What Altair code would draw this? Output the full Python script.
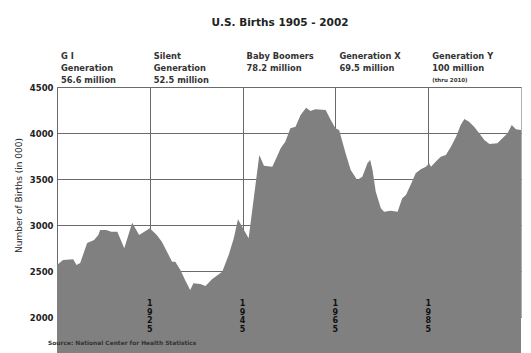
import altair as alt
import pandas as pd

# ---- data ----
years = [1905, 1906.3, 1908.5, 1909.2, 1910, 1911.5, 1913, 1913.9, 1914.3, 1915.6,
         1916.7, 1918, 1919.5, 1921.2, 1922.7, 1925, 1926.5, 1927.6, 1928.7, 1929.8,
         1930.5, 1931.6, 1932.6, 1933.7, 1934.4, 1935.9, 1937, 1938.4, 1940.6, 1942,
         1943.1, 1944, 1944.9, 1946.3, 1948.6, 1949.6, 1951.4, 1952.4, 1953.2, 1954.2,
         1955.3, 1956.4, 1957.5, 1958.7, 1959.6, 1960.7, 1962.9, 1964, 1965, 1965.8,
         1967.2, 1968.3, 1969.7, 1970.8, 1971.9, 1972.5, 1973, 1973.7, 1974.8, 1975.5,
         1976.9, 1978.4, 1979.4, 1980.2, 1981.2, 1982.3, 1983.4, 1984.5, 1985.2, 1985.6,
         1986.6, 1987.7, 1988.8, 1989.9, 1991, 1992, 1992.8, 1993.8, 1994.9, 1996,
         1997.1, 1998.2, 1999.9, 2001, 2002.1, 2003, 2003.9, 2005]
births = [2565, 2620, 2627, 2565, 2587, 2804, 2837, 2891, 2946, 2946,
          2927, 2927, 2747, 3025, 2891, 2964, 2891, 2818, 2710, 2601,
          2601, 2511, 2402, 2293, 2366, 2359, 2337, 2410, 2493, 2674,
          2855, 3062, 2982, 2855, 3761, 3645, 3634, 3742, 3833, 3906,
          4051, 4069, 4196, 4275, 4239, 4257, 4250, 4141, 4051, 4033,
          3779, 3598, 3489, 3525, 3670, 3707, 3598, 3362, 3181, 3145,
          3156, 3145, 3290, 3326, 3435, 3562, 3605, 3634, 3670, 3634,
          3688, 3742, 3761, 3851, 3960, 4087, 4152, 4123, 4069, 3996,
          3924, 3880, 3888, 3942, 3996, 4087, 4040, 4033]

gen_start = [1905, 1925, 1945, 1965, 1985]
gen_labels = ["G I\nGeneration\n56.6 million",
              "Silent\nGeneration\n52.5 million",
              "Baby Boomers\n78.2 million",
              "Generation X\n69.5 million",
              "Generation Y\n100 million"]
gen_note = ["(thru 2010)"]
gen_note_start = [1985]
tick_years = [1925, 1945, 1965, 1985]
y_ticks = [2000, 2500, 3000, 3500, 4000, 4500]
title_text = "U.S. Births 1905 - 2002"
source_text = "Source: National Center for Health Statistics"
y_title = "Number of Births (in 000)"

df = pd.DataFrame({"year": years, "births": births})
gen_df = pd.DataFrame({"start": gen_start, "label": gen_labels})
note_df = pd.DataFrame({"start": gen_note_start, "label": gen_note})
# year labels written as a vertical stack of digits
digit_rows = []
for y in tick_years:
    for i, ch in enumerate(str(y)):
        digit_rows.append({"year": y, "pos": i, "digit": ch})
tick_df = pd.DataFrame(digit_rows)
title_df = pd.DataFrame({"t": [title_text]})
source_df = pd.DataFrame({"t": [source_text]})

FONT = "DejaVu Sans"
GRID = "#6a6a6a"
x_scale = alt.Scale(domain=[1905, 2005], nice=False, zero=False)
y_scale = alt.Scale(domain=[2000, 4500], nice=False, zero=False)

area = alt.Chart(df).mark_area(color="#808080", opacity=1).encode(
    x=alt.X("year:Q", scale=x_scale,
            axis=alt.Axis(values=[1905] + tick_years, grid=True, labels=False,
                          ticks=False, domain=False, title=None,
                          gridColor=GRID, gridOpacity=1, gridWidth=1)),
    y=alt.Y("births:Q", scale=y_scale,
            axis=alt.Axis(values=y_ticks, format="d", grid=True, ticks=False,
                          domain=False, gridColor=GRID, gridOpacity=1, gridWidth=1,
                          labelPadding=4, labelFont=FONT, labelFontSize=8.5,
                          labelFontWeight="bold", labelColor="#222",
                          title=y_title, titleFont=FONT, titleFontSize=9,
                          titleFontWeight="normal", titleColor="#222",
                          titleX=-39, titleY=108, titleAngle=270,
                          titleAlign="center", titleBaseline="middle")),
)

ticks_text = alt.Chart(tick_df).mark_text(
    baseline="middle", align="center", font=FONT,
    fontSize=8, fontWeight="bold", color="#111"
).encode(
    x=alt.X("year:Q", scale=x_scale),
    y=alt.value(217),
    yOffset=alt.YOffset("pos:Q", scale=alt.Scale(domain=[0, 3], range=[0, 26.1])),
    text="digit:N",
)

gen_text = alt.Chart(gen_df).mark_text(
    lineBreak="\n", baseline="top", align="left", dx=4, font=FONT,
    fontSize=8.3, lineHeight=12, fontWeight="bold", color="#333"
).encode(x=alt.X("start:Q", scale=x_scale), y=alt.value(-35), text="label:N")

note_text = alt.Chart(note_df).mark_text(
    baseline="middle", align="left", dx=4, font=FONT,
    fontSize=5.5, fontWeight="bold", color="#333"
).encode(x=alt.X("start:Q", scale=x_scale), y=alt.value(-7), text="label:N")

title = alt.Chart(title_df).mark_text(
    baseline="middle", align="center", font=FONT, fontSize=10.5,
    fontWeight="bold", color="#222"
).encode(x=alt.value(223), y=alt.value(-64), text="t:N")

source = alt.Chart(source_df).mark_text(
    baseline="middle", align="left", font=FONT, fontSize=5.9,
    fontWeight="bold", color="#333"
).encode(x=alt.value(-9), y=alt.value(256), text="t:N")

chart = alt.layer(area, ticks_text, gen_text, note_text, title, source).properties(
    width=464, height=230,
    padding={"left": 57, "top": 87, "right": 10, "bottom": 36},
    autosize=alt.AutoSizeParams(type="none"),
    background="white",
).configure_view(stroke="#b0b0b0")

chart.save("out.html", embed_options={"renderer": "svg", "actions": False})
